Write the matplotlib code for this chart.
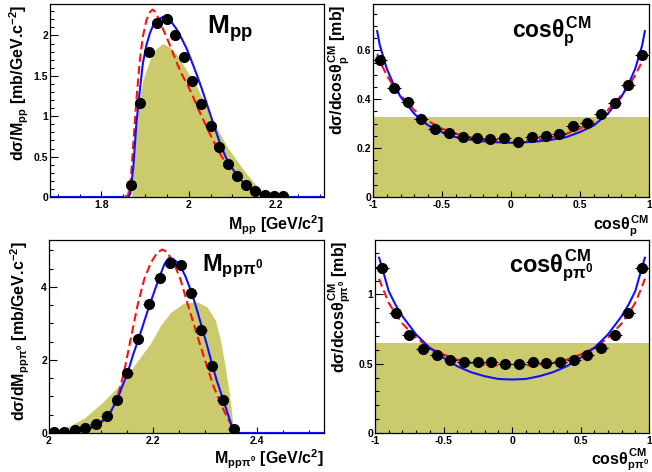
import numpy as np
import matplotlib
matplotlib.use("Agg")
from matplotlib import pyplot as plt
from matplotlib.ticker import MultipleLocator, FormatStrFormatter

plt.rcParams.update({
    "font.family": "Liberation Sans",
    "font.weight": "bold",
    "mathtext.fontset": "custom",
    "mathtext.rm": "Liberation Sans:bold",
    "mathtext.it": "Liberation Sans:bold",
    "mathtext.bf": "Liberation Sans:bold",
    "mathtext.sf": "Liberation Sans:bold",
    "axes.linewidth": 0.9,
})

FILL = "#cbca6c"
BLUE = "#1010ff"
RED = "#ff1010"

# ---- M_pp ----
mpp_x = [1.867, 1.888, 1.908, 1.928, 1.950, 1.969, 1.989, 2.008, 2.029, 2.050,
         2.070, 2.091, 2.111, 2.132, 2.153, 2.174, 2.195, 2.215]
mpp_y = [0.15, 1.16, 1.79, 2.16, 2.21, 2.01, 1.73, 1.44, 1.15, 0.88,
         0.62, 0.41, 0.26, 0.145, 0.075, 0.03, 0.015, 0.01]
mpp_sim_x = [1.869, 1.876, 1.884, 1.895, 1.911, 1.926, 1.940, 1.956, 1.976, 1.995,
             2.018, 2.041, 2.063, 2.086, 2.109, 2.132, 2.155, 2.178, 2.189]
mpp_sim_y = [0.0, 0.62, 1.12, 1.45, 1.70, 1.84, 1.90, 1.86, 1.74, 1.57,
             1.37, 1.12, 0.87, 0.64, 0.46, 0.29, 0.145, 0.04, 0.0]
mpp_blue_x = [1.682, 1.850, 1.856, 1.861, 1.866, 1.873, 1.880, 1.888, 1.895, 1.903,
              1.911, 1.918, 1.930, 1.941, 1.949, 1.960, 1.972, 1.983, 1.995, 2.006,
              2.018, 2.030, 2.041, 2.052, 2.063, 2.075, 2.086, 2.098, 2.109, 2.120,
              2.132, 2.147, 2.163, 2.178, 2.194, 2.210, 2.310]
mpp_blue_y = [0.0, 0.0, -0.025, -0.01, 0.04, 0.37, 0.91, 1.33, 1.66, 1.88,
              2.03, 2.12, 2.20, 2.23, 2.22, 2.17, 2.08, 1.97, 1.84, 1.69,
              1.52, 1.34, 1.16, 0.98, 0.80, 0.62, 0.48, 0.37, 0.28, 0.21,
              0.15, 0.09, 0.05, 0.02, 0.005, 0.0, 0.0]
mpp_red_x = [1.682, 1.850, 1.861, 1.867, 1.873, 1.880, 1.888, 1.895, 1.903, 1.911,
             1.917, 1.922, 1.930, 1.941, 1.953, 1.964, 1.975, 1.986, 1.998, 2.010,
             2.021, 2.033, 2.044, 2.056, 2.067, 2.079, 2.090, 2.102, 2.113, 2.128,
             2.144, 2.159, 2.174, 2.190, 2.210, 2.310]
mpp_red_y = [0.0, 0.0, 0.02, 0.2, 0.66, 1.2, 1.7, 1.99, 2.19, 2.29,
             2.32, 2.30, 2.22, 2.08, 1.93, 1.78, 1.63, 1.50, 1.38, 1.24,
             1.10, 0.96, 0.83, 0.70, 0.58, 0.47, 0.38, 0.30, 0.23, 0.16,
             0.10, 0.055, 0.025, 0.01, 0.0, 0.0]

# ---- cos theta_p ----
cp_x = [-0.95, -0.85, -0.75, -0.65, -0.55, -0.45, -0.35, -0.25, -0.15, -0.05,
        0.05, 0.15, 0.25, 0.35, 0.45, 0.55, 0.65, 0.75, 0.85, 0.95]
cp_y = [0.559, 0.447, 0.387, 0.320, 0.278, 0.262, 0.245, 0.241, 0.237, 0.240,
        0.225, 0.245, 0.248, 0.259, 0.289, 0.304, 0.338, 0.386, 0.458, 0.580]
cp_sim = 0.327
cp_curve_x = [-0.97, -0.95, -0.9, -0.85, -0.8, -0.7, -0.6, -0.5, -0.4, -0.3, -0.2, -0.1, 0.0,
              0.1, 0.2, 0.3, 0.4, 0.5, 0.6, 0.7, 0.8, 0.85, 0.9, 0.95, 0.97]
cp_blue_y = [0.679, 0.62, 0.525, 0.46, 0.41, 0.34, 0.293, 0.266, 0.245, 0.235, 0.228, 0.224, 0.222,
             0.224, 0.228, 0.235, 0.245, 0.266, 0.293, 0.34, 0.41, 0.46, 0.525, 0.62, 0.679]
cp_red_y = [0.586, 0.555, 0.498, 0.452, 0.416, 0.355, 0.311, 0.280, 0.259, 0.245, 0.237, 0.233, 0.232,
            0.233, 0.237, 0.245, 0.259, 0.280, 0.311, 0.355, 0.416, 0.452, 0.498, 0.555, 0.586]

# ---- M_pp pi0 ----
mppi_x = [2.009, 2.029, 2.050, 2.070, 2.090, 2.111, 2.131, 2.151, 2.171, 2.192,
          2.213, 2.233, 2.253, 2.274, 2.293, 2.313, 2.334, 2.355]
mppi_y = [0.04, 0.04, 0.07, 0.14, 0.25, 0.47, 0.91, 1.64, 2.58, 3.52,
          4.23, 4.66, 4.59, 3.82, 2.83, 1.84, 0.91, 0.11]
mppi_sim_x = [2.000, 2.032, 2.068, 2.100, 2.132, 2.164, 2.195, 2.215, 2.234, 2.259,
              2.285, 2.304, 2.320, 2.330, 2.339, 2.346, 2.351, 2.354, 2.356]
mppi_sim_y = [0.0, 0.14, 0.41, 0.80, 1.25, 1.85, 2.45, 2.95, 3.30, 3.55,
              3.59, 3.45, 3.09, 2.54, 1.81, 1.17, 0.62, 0.16, 0.0]
mppi_blue_x = [2.000, 2.040, 2.068, 2.090, 2.100, 2.110, 2.119, 2.131, 2.141, 2.151,
               2.162, 2.173, 2.184, 2.194, 2.205, 2.215, 2.222, 2.231, 2.239, 2.247,
               2.253, 2.262, 2.274, 2.285, 2.294, 2.304, 2.313, 2.323, 2.334, 2.344,
               2.352, 2.358, 2.365, 2.528]
mppi_blue_y = [0.01, 0.03, 0.09, 0.20, 0.30, 0.43, 0.59, 0.91, 1.28, 1.64,
               2.15, 2.60, 3.09, 3.52, 3.97, 4.36, 4.62, 4.79, 4.76, 4.66,
               4.56, 4.30, 3.86, 3.35, 2.90, 2.40, 1.92, 1.42, 0.96, 0.52,
               0.18, 0.03, 0.0, 0.0]
mppi_red_x = [2.000, 2.068, 2.100, 2.119, 2.131, 2.144, 2.157, 2.170, 2.183, 2.196,
              2.208, 2.218, 2.227, 2.240, 2.253, 2.266, 2.278, 2.298, 2.317, 2.333,
              2.349, 2.355, 2.362, 2.528]
mppi_red_y = [0.0, 0.06, 0.27, 0.59, 0.95, 1.64, 2.56, 3.47, 4.20, 4.66,
              4.93, 5.02, 4.95, 4.66, 4.20, 3.56, 3.00, 2.08, 1.26, 0.71,
              0.26, 0.07, 0.0, 0.0]

# ---- cos theta_p pi0 ----
cpp_x = cp_x
cpp_y = [1.188, 0.863, 0.706, 0.607, 0.566, 0.530, 0.511, 0.511, 0.513, 0.501,
         0.499, 0.513, 0.508, 0.511, 0.530, 0.566, 0.610, 0.706, 0.863, 1.188]
cpp_sim = 0.651
cpp_blue_y = [1.265, 1.20, 1.024, 0.925, 0.843, 0.711, 0.614, 0.542, 0.482, 0.439, 0.410, 0.390, 0.386,
              0.390, 0.410, 0.439, 0.482, 0.542, 0.614, 0.711, 0.843, 0.925, 1.024, 1.20, 1.265]
cpp_red_y = [1.113, 1.06, 0.94, 0.86, 0.79, 0.687, 0.614, 0.566, 0.530, 0.506, 0.494, 0.487, 0.482,
             0.487, 0.494, 0.506, 0.530, 0.566, 0.614, 0.687, 0.79, 0.86, 0.94, 1.06, 1.113]


def style(ax, xlim, ylim, xmaj, xmin, ymaj, ymin, xfmt="%g", yfmt="%g"):
    ax.set_xlim(*xlim)
    ax.set_ylim(*ylim)
    ax.xaxis.set_major_locator(MultipleLocator(xmaj))
    ax.xaxis.set_minor_locator(MultipleLocator(xmin))
    ax.yaxis.set_major_locator(MultipleLocator(ymaj))
    ax.yaxis.set_minor_locator(MultipleLocator(ymin))
    ax.xaxis.set_major_formatter(FormatStrFormatter(xfmt))
    ax.yaxis.set_major_formatter(FormatStrFormatter(yfmt))
    ax.tick_params(axis="both", which="both", direction="in", top=False, right=False,
                   labelsize=7.5, width=0.8)
    ax.tick_params(axis="x", which="major", length=4.5, pad=2)
    ax.tick_params(axis="x", which="minor", length=2.2)
    ax.tick_params(axis="y", which="major", length=5.5, pad=1.5)
    ax.tick_params(axis="y", which="minor", length=2.8)
    for lab in ax.get_xticklabels() + ax.get_yticklabels():
        lab.set_fontweight("bold")


def draw(ax, px, py, xerr, sx, sy, bx, by, rx, ry):
    ax.fill_between(sx, 0, sy, color=FILL, lw=0, zorder=1)
    ax.plot(rx, ry, color=RED, lw=1.5, ls=(0, (4, 2)), zorder=2)
    ax.plot(bx, by, color=BLUE, lw=1.5, zorder=3)
    ax.errorbar(px, py, xerr=xerr, fmt="o", color="black", ms=7, elinewidth=0.9,
                capsize=0, zorder=4)


fig = plt.figure(figsize=(6.52, 4.72), dpi=100)
W, H = 652.0, 472.0

ax1 = fig.add_axes([50 / W, 1 - 197 / H, 274 / W, 193 / H])
ax2 = fig.add_axes([373 / W, 1 - 197 / H, 276 / W, 193 / H])
ax3 = fig.add_axes([49 / W, 1 - 433 / H, 275 / W, 193 / H])
ax4 = fig.add_axes([375 / W, 1 - 433 / H, 274 / W, 193 / H])

draw(ax1, mpp_x, mpp_y, 0.0103, mpp_sim_x, mpp_sim_y, mpp_blue_x, mpp_blue_y, mpp_red_x, mpp_red_y)
style(ax1, (1.682, 2.31), (0, 2.39), 0.2, 0.05, 0.5, 0.1)

ax2.fill_between([-1, 1], 0, [cp_sim, cp_sim], color=FILL, lw=0, zorder=1)
ax2.plot(cp_curve_x, cp_red_y, color=RED, lw=1.5, ls=(0, (4, 2)), zorder=2)
ax2.plot(cp_curve_x, cp_blue_y, color=BLUE, lw=1.5, zorder=3)
ax2.errorbar(cp_x, cp_y, xerr=0.05, fmt="o", color="black", ms=7, elinewidth=0.9, capsize=0, zorder=4)
style(ax2, (-1, 1), (0, 0.79), 0.5, 0.1, 0.2, 0.05)

draw(ax3, mppi_x, mppi_y, 0.0103, mppi_sim_x, mppi_sim_y, mppi_blue_x, mppi_blue_y, mppi_red_x, mppi_red_y)
style(ax3, (2.0, 2.529), (0, 5.28), 0.2, 0.05, 2, 0.5)

ax4.fill_between([-1, 1], 0, [cpp_sim, cpp_sim], color=FILL, lw=0, zorder=1)
ax4.plot(cp_curve_x, cpp_red_y, color=RED, lw=1.5, ls=(0, (4, 2)), zorder=2)
ax4.plot(cp_curve_x, cpp_blue_y, color=BLUE, lw=1.5, zorder=3)
ax4.errorbar(cpp_x, cpp_y, xerr=0.05, fmt="o", color="black", ms=7, elinewidth=0.9, capsize=0, zorder=4)
style(ax4, (-1, 1), (0, 1.393), 0.5, 0.1, 0.5, 0.1)

# axis titles (ROOT style: aligned to the end of the axis)
lab_fs = 11.5
ax1.set_xlabel(r"M$_{pp}$ [GeV/c$^{2}$]", fontsize=lab_fs, fontweight="bold", ha="right", x=1.0)
ax1.set_ylabel(r"d$\sigma$/M$_{pp}$ [mb/GeV.c$^{-2}$]", fontsize=lab_fs, fontweight="bold", ha="right", y=1.0)
ax2.set_xlabel(r"cos$\theta_{p}^{CM}$", fontsize=lab_fs, fontweight="bold", ha="right", x=1.0)
ax2.set_ylabel(r"d$\sigma$/dcos$\theta_{p}^{CM}$ [mb]", fontsize=lab_fs, fontweight="bold", ha="right", y=1.0)
ax3.set_xlabel(r"M$_{pp\pi^{0}}$ [GeV/c$^{2}$]", fontsize=lab_fs, fontweight="bold", ha="right", x=1.0)
ax3.set_ylabel(r"d$\sigma$/dM$_{pp\pi^{0}}$ [mb/GeV.c$^{-2}$]", fontsize=lab_fs, fontweight="bold", ha="right", y=1.0)
ax4.set_xlabel(r"cos$\theta_{p\pi^{0}}^{CM}$", fontsize=lab_fs, fontweight="bold", ha="right", x=1.0)
ax4.set_ylabel(r"d$\sigma$/dcos$\theta_{p\pi^{0}}^{CM}$ [mb]", fontsize=lab_fs, fontweight="bold", ha="right", y=1.0)

ax1.yaxis.set_label_coords(-0.113, 0.995)
ax2.yaxis.set_label_coords(-0.12, 0.995)
ax3.yaxis.set_label_coords(-0.105, 0.995)
ax4.yaxis.set_label_coords(-0.128, 0.995)
for ax in (ax1, ax2, ax3, ax4):
    ax.yaxis.label.set_va("center")
    ax.xaxis.set_label_coords(1.0, -0.085)
    ax.xaxis.label.set_va("top")
ax3.xaxis.set_label_coords(1.0, -0.075)
ax4.xaxis.set_label_coords(1.0, -0.07)

# panel titles
ax1.text(0.573, 0.845, r"M$_{pp}$", transform=ax1.transAxes, fontsize=19, fontweight="bold")
ax2.text(0.504, 0.825, r"cos$\theta_{p}^{CM}$", transform=ax2.transAxes, fontsize=16.5, fontweight="bold")
ax3.text(0.556, 0.84, r"M$_{pp\pi^{0}}$", transform=ax3.transAxes, fontsize=17, fontweight="bold")
ax4.text(0.49, 0.83, r"cos$\theta_{p\pi^{0}}^{CM}$", transform=ax4.transAxes, fontsize=17, fontweight="bold")

fig.savefig("out.png", dpi=100)
